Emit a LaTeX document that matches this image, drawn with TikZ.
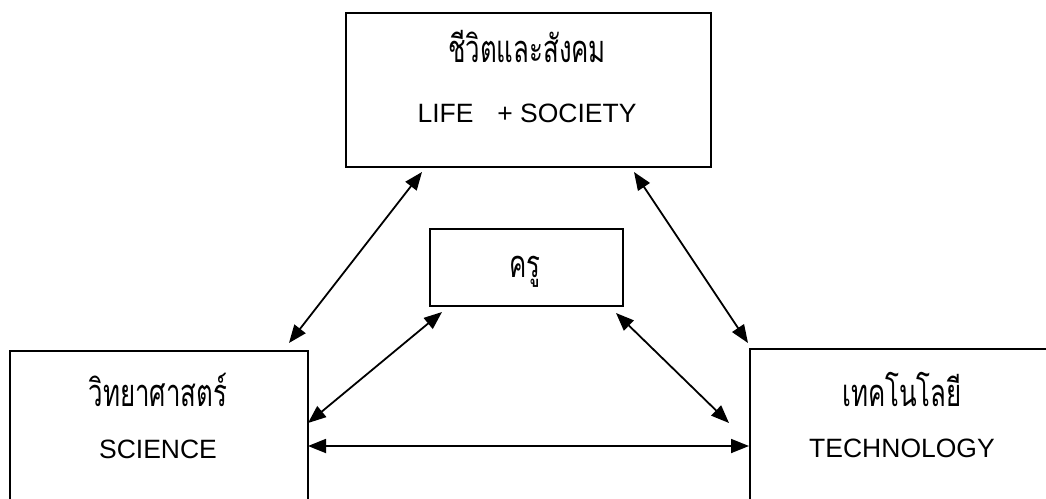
\documentclass[tikz,border=0pt]{standalone}
\usepackage{fontspec}
\setmainfont{Liberation Sans}
\newfontfamily\thaifont[Script=Thai,FakeStretch=0.68]{Loma}
\usetikzlibrary{arrows.meta}
\begin{document}
\begin{tikzpicture}[x=1pt,y=-1pt,
  box/.style={draw, line width=1.9pt, inner sep=0pt, anchor=north west},
  conn/.style={line width=1.8pt, {Triangle[length=18pt,width=14pt]}-{Triangle[length=18pt,width=14pt]}},
  lat/.style={anchor=base, inner sep=0pt, font=\fontsize{26.5}{30}\selectfont},
  th/.style={anchor=base, inner sep=0pt, font=\thaifont\fontsize{38}{40}\selectfont}]
\useasboundingbox (0,0) rectangle (1046,498);
\begin{scope}
\clip (0,0) rectangle (1046,498);
% boxes
\node[box, minimum width=365pt, minimum height=154pt] (life) at (345,12) {};
\node[box, minimum width=193pt, minimum height=77pt] (kru) at (429,228) {};
\node[box, minimum width=298pt, minimum height=170pt] (sci) at (9,350) {};
\node[box, minimum width=306pt, minimum height=170pt] (tech) at (749,348) {};
% texts
\node[th] (lifeth) at (527,62) {ชีวิตและสังคม};
\node[lat] (lifeen) at (527,122) {LIFE\hspace{0.9em}+ SOCIETY};
\node[th] (kruth) at (525,277) {ครู};
\node[th] (scith) at (158,406) {วิทยาศาสตร์};
\node[lat] (scien) at (158,458) {SCIENCE};
\node[th] (techth) at (902,406) {เทคโนโลยี};
\node[lat] (techen) at (902,457) {TECHNOLOGY};
\end{scope}
% connector end points
\coordinate (a1) at (422,172);
\coordinate (a2) at (289,343);
\coordinate (b1) at (634,172);
\coordinate (b2) at (748,343);
\coordinate (c1) at (442,312);
\coordinate (c2) at (308,423);
\coordinate (d1) at (616,313);
\coordinate (d2) at (729,423);
\coordinate (e1) at (308,446);
\coordinate (e2) at (749,446);
\draw[conn] (a1) -- (a2);
\draw[conn] (b1) -- (b2);
\draw[conn] (c1) -- (c2);
\draw[conn] (d1) -- (d2);
\draw[conn] (e1) -- (e2);
\end{tikzpicture}
\end{document}
